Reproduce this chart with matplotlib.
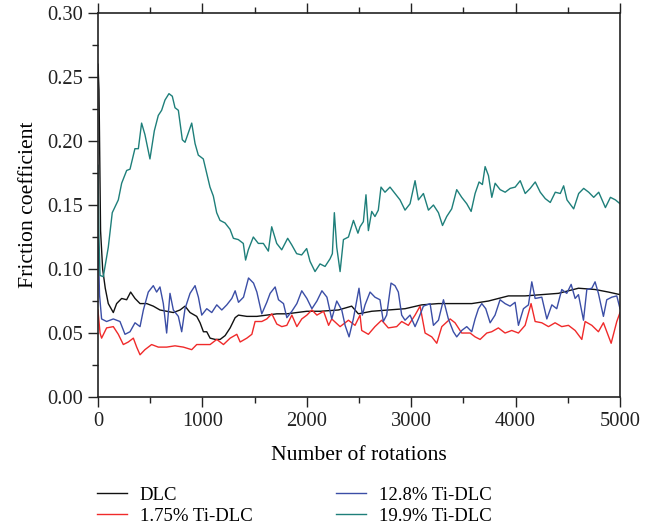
import matplotlib
matplotlib.use("Agg")
import matplotlib.pyplot as plt
from matplotlib.ticker import MultipleLocator

plt.rcParams['font.family'] = ['Liberation Serif', 'DejaVu Serif']

# ---- data ----
dlc_x = [0, 10, 25, 45, 70, 99, 147, 179, 227, 275, 313, 355, 403, 467, 530, 594, 658, 722,
         786, 834, 882, 946, 978, 1010, 1042, 1074, 1122, 1170, 1218, 1266, 1314, 1346, 1426,
         1522, 1617, 1713, 1809, 1905, 2001, 2129, 2303, 2430, 2494, 2622, 2781, 2941, 3101,
         3260, 3420, 3580, 3740, 3835, 3931, 4091, 4251, 4410, 4602, 4761, 4889, 5000]
dlc_y = [0.260, 0.240, 0.130, 0.100, 0.085, 0.073, 0.066, 0.073, 0.077, 0.076, 0.082, 0.077,
         0.073, 0.073, 0.071, 0.068, 0.067, 0.066, 0.068, 0.071, 0.066, 0.063, 0.058, 0.051,
         0.051, 0.046, 0.045, 0.045, 0.048, 0.054, 0.062, 0.064, 0.063, 0.063, 0.064, 0.065,
         0.065, 0.066, 0.067, 0.067, 0.068, 0.071, 0.065, 0.067, 0.068, 0.069, 0.072, 0.073,
         0.073, 0.073, 0.075, 0.077, 0.079, 0.079, 0.080, 0.081, 0.085, 0.084, 0.082, 0.080]

ti175_x = [0, 20, 35, 83, 147, 195, 243, 291, 339, 371, 403, 450, 514, 578, 658, 738, 818,
           898, 946, 1010, 1074, 1138, 1202, 1266, 1330, 1362, 1426, 1474, 1505, 1569, 1617,
           1665, 1713, 1761, 1809, 1857, 1905, 1952, 2001, 2049, 2097, 2161, 2209, 2239, 2319,
           2399, 2462, 2510, 2526, 2590, 2653, 2717, 2781, 2861, 2909, 2973, 3037, 3085, 3133,
           3197, 3245, 3293, 3373, 3420, 3484, 3564, 3612, 3660, 3724, 3771, 3835, 3899, 3963,
           4027, 4091, 4148, 4187, 4251, 4315, 4378, 4442, 4506, 4570, 4634, 4666, 4730, 4793,
           4841, 4915, 4969, 5000]
ti175_y = [0.068, 0.050, 0.046, 0.054, 0.055, 0.049, 0.041, 0.043, 0.046, 0.039, 0.033,
           0.037, 0.041, 0.039, 0.039, 0.040, 0.039, 0.037, 0.041, 0.041, 0.041, 0.045, 0.041,
           0.046, 0.049, 0.043, 0.046, 0.049, 0.059, 0.059, 0.061, 0.065, 0.057, 0.055, 0.056,
           0.064, 0.055, 0.061, 0.064, 0.068, 0.064, 0.067, 0.056, 0.061, 0.055, 0.060, 0.056,
           0.064, 0.052, 0.049, 0.055, 0.060, 0.054, 0.055, 0.059, 0.056, 0.064, 0.071, 0.050,
           0.047, 0.042, 0.055, 0.061, 0.058, 0.050, 0.050, 0.047, 0.045, 0.050, 0.051, 0.054,
           0.050, 0.052, 0.050, 0.056, 0.073, 0.059, 0.058, 0.055, 0.058, 0.055, 0.056, 0.052,
           0.045, 0.059, 0.056, 0.051, 0.058, 0.042, 0.059, 0.066]

ti128_x = [0, 15, 35, 83, 147, 211, 259, 307, 355, 403, 435, 482, 530, 562, 594, 626, 658,
           690, 722, 770, 802, 834, 882, 930, 962, 994, 1042, 1090, 1138, 1186, 1234, 1282,
           1314, 1346, 1394, 1442, 1490, 1522, 1569, 1617, 1649, 1697, 1729, 1777, 1809, 1857,
           1905, 1952, 2001, 2049, 2097, 2145, 2193, 2239, 2287, 2335, 2367, 2405, 2446, 2500,
           2532, 2558, 2606, 2653, 2701, 2733, 2765, 2807, 2845, 2877, 2909, 2941, 2989, 3037,
           3069, 3117, 3181, 3213, 3261, 3309, 3356, 3404, 3436, 3484, 3532, 3580, 3612, 3644,
           3676, 3714, 3756, 3803, 3851, 3899, 3947, 3995, 4027, 4075, 4123, 4155, 4187, 4251,
           4299, 4347, 4394, 4442, 4490, 4532, 4570, 4602, 4650, 4682, 4730, 4761, 4793, 4841,
           4873, 4921, 4969, 5000]
ti128_y = [0.130, 0.080, 0.061, 0.059, 0.061, 0.059, 0.049, 0.051, 0.058, 0.055, 0.068,
           0.082, 0.087, 0.082, 0.086, 0.073, 0.050, 0.081, 0.068, 0.063, 0.051, 0.069, 0.081,
           0.087, 0.078, 0.064, 0.069, 0.066, 0.072, 0.068, 0.072, 0.077, 0.083, 0.074, 0.078,
           0.093, 0.089, 0.082, 0.065, 0.074, 0.081, 0.086, 0.076, 0.073, 0.062, 0.067, 0.073,
           0.083, 0.077, 0.069, 0.075, 0.083, 0.078, 0.061, 0.075, 0.068, 0.056, 0.047, 0.061,
           0.085, 0.064, 0.072, 0.082, 0.078, 0.076, 0.059, 0.064, 0.089, 0.087, 0.082, 0.064,
           0.060, 0.064, 0.055, 0.061, 0.071, 0.073, 0.056, 0.060, 0.076, 0.061, 0.051, 0.047,
           0.052, 0.055, 0.051, 0.061, 0.069, 0.073, 0.069, 0.058, 0.064, 0.076, 0.073, 0.071,
           0.074, 0.056, 0.069, 0.072, 0.090, 0.077, 0.078, 0.061, 0.072, 0.069, 0.084, 0.081,
           0.088, 0.077, 0.080, 0.060, 0.084, 0.085, 0.090, 0.081, 0.063, 0.076, 0.078, 0.079,
           0.069]

ti199_x = [0, 8, 20, 51, 99, 137, 195, 227, 275, 307, 354, 387, 418, 450, 498, 540, 578, 610,
           642, 680, 712, 738, 770, 808, 834, 898, 930, 961, 1009, 1041, 1073, 1105, 1137,
           1169, 1217, 1265, 1297, 1344, 1392, 1414, 1440, 1488, 1536, 1584, 1632, 1664, 1712,
           1760, 1817, 1855, 1903, 1951, 1999, 2031, 2079, 2127, 2175, 2223, 2245, 2264, 2287,
           2319, 2351, 2399, 2447, 2490, 2510, 2542, 2567, 2590, 2622, 2653, 2685, 2711, 2749,
           2797, 2845, 2893, 2941, 2989, 3037, 3069, 3117, 3165, 3213, 3261, 3300, 3340, 3388,
           3436, 3484, 3532, 3574, 3612, 3650, 3682, 3708, 3740, 3772, 3804, 3852, 3900, 3948,
           3996, 4044, 4092, 4140, 4188, 4236, 4284, 4332, 4380, 4428, 4460, 4492, 4556, 4604,
           4652, 4700, 4748, 4796, 4860, 4908, 4956, 5000]
ti199_y = [0.181, 0.130, 0.095, 0.094, 0.117, 0.144, 0.154, 0.167, 0.177, 0.178, 0.194,
           0.194, 0.214, 0.205, 0.186, 0.208, 0.220, 0.224, 0.232, 0.237, 0.235, 0.226, 0.224,
           0.201, 0.199, 0.214, 0.198, 0.189, 0.186, 0.175, 0.164, 0.157, 0.144, 0.138, 0.136,
           0.131, 0.124, 0.123, 0.120, 0.107, 0.115, 0.125, 0.120, 0.120, 0.114, 0.133, 0.120,
           0.115, 0.124, 0.119, 0.112, 0.111, 0.116, 0.106, 0.098, 0.104, 0.102, 0.108, 0.112,
           0.144, 0.117, 0.098, 0.123, 0.125, 0.138, 0.128, 0.133, 0.137, 0.158, 0.130, 0.145,
           0.141, 0.146, 0.164, 0.160, 0.164, 0.159, 0.154, 0.146, 0.151, 0.169, 0.154, 0.159,
           0.146, 0.150, 0.144, 0.134, 0.141, 0.147, 0.162, 0.156, 0.151, 0.145, 0.159, 0.168,
           0.166, 0.180, 0.173, 0.156, 0.167, 0.162, 0.160, 0.163, 0.164, 0.169, 0.159, 0.163,
           0.168, 0.160, 0.155, 0.152, 0.160, 0.159, 0.165, 0.154, 0.147, 0.159, 0.163, 0.160,
           0.156, 0.160, 0.148, 0.156, 0.154, 0.151]

labels = ["DLC", "1.75% Ti-DLC", "12.8% Ti-DLC", "19.9% Ti-DLC"]
colors = ["#111111", "#f02a2a", "#3b4ea6", "#1e7f7a"]

fig = plt.figure(figsize=(6.53, 5.31), dpi=100)
ax = fig.add_axes([0.150, 0.2523, 0.7995, 0.7232])

series = [(dlc_x, dlc_y), (ti175_x, ti175_y), (ti128_x, ti128_y), (ti199_x, ti199_y)]
handles = []
for (xs, ys), lab, c in zip(series, labels, colors):
    h, = ax.plot(xs, ys, color=c, lw=1.0, label=lab)
    handles.append(h)

ax.set_xlim(0, 5000)
ax.set_ylim(0, 0.30)
ax.xaxis.set_major_locator(MultipleLocator(1000))
ax.xaxis.set_minor_locator(MultipleLocator(500))
ax.yaxis.set_major_locator(MultipleLocator(0.05))
ax.yaxis.set_minor_locator(MultipleLocator(0.025))
ax.yaxis.set_major_formatter(matplotlib.ticker.FormatStrFormatter('%.2f'))
ax.tick_params(which='both', direction='out', top=True, right=False, labelsize=14.8,
               colors='#222222', width=1.0)
ax.tick_params(which='major', length=7)
ax.tick_params(which='minor', length=4)
for s in ax.spines.values():
    s.set_linewidth(1.2)
    s.set_color('#222222')

ax.set_xlabel("Number of rotations", fontsize=15.6, labelpad=11)
ax.set_ylabel("Friction coefficient", fontsize=15.6, labelpad=7)

fig.legend(handles=handles, labels=labels, ncol=2, loc='upper left',
           bbox_to_anchor=(0.122, 0.115), frameon=False, fontsize=13.5,
           handlelength=1.6, handletextpad=0.7, columnspacing=4.45, labelspacing=0.2)

fig.savefig("out.png", dpi=100)
